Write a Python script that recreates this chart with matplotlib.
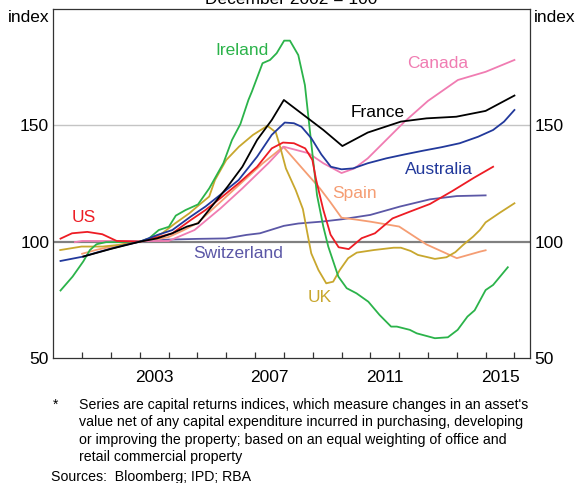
import matplotlib
matplotlib.use("Agg")
import matplotlib.pyplot as plt
from matplotlib.ticker import FixedLocator, NullFormatter

plt.rcParams['font.family'] = ['Liberation Sans', 'DejaVu Sans']

# values (index, December 2002 = 100)
ireland_t = [2000.25, 2000.67, 2001.04, 2001.27, 2001.5, 2001.83, 2002.2, 2003.0, 2003.32, 2003.66,
             2004.01, 2004.25, 2004.59, 2005.02, 2005.41, 2005.9, 2006.2, 2006.49, 2006.77, 2006.89,
             2007.26, 2007.52, 2007.75, 2008.01, 2008.21, 2008.5, 2008.73, 2008.9, 2009.15, 2009.37,
             2009.54, 2009.89, 2010.18, 2010.52, 2010.93, 2011.32, 2011.72, 2011.92, 2012.37, 2012.61,
             2013.24, 2013.69, 2014.03, 2014.37, 2014.62, 2015.0, 2015.26, 2015.77]
ireland_v = [79.0, 85.0, 91.5, 96.4, 98.9, 99.8, 99.8, 100.0, 101.4, 105.0,
             106.4, 111.2, 113.6, 116.0, 122.9, 133.7, 143.7, 150.5, 160.9, 164.5,
             176.7, 178.1, 181.0, 186.4, 186.4, 180.2, 167.3, 148.0, 120.0, 106.4,
             97.9, 85.0, 80.0, 77.8, 74.2, 68.5, 63.5, 63.5, 62.1, 60.6,
             58.5, 58.9, 62.1, 67.8, 70.5, 79.2, 81.4, 89.0]

canada_t = [2000.75, 2001.0, 2003.5, 2004.0, 2004.9, 2005.8, 2006.56, 2007.46, 2008.0, 2008.86,
            2009.37, 2010.0, 2010.45, 2010.91, 2011.55, 2012.19, 2013.0, 2014.04, 2015.0, 2016.0]
canada_v = [99.8, 100.3, 100.3, 100.3, 105.0, 114.3, 122.9, 133.7, 140.8, 138.0,
            133.7, 129.5, 131.5, 135.8, 143.7, 151.6, 160.5, 169.5, 173.0, 178.1]

france_t = [2001.04, 2002.0, 2003.0, 2003.6, 2004.13, 2004.64, 2005.03, 2005.54, 2006.05, 2006.56,
            2007.07, 2007.58, 2008.0, 2009.37, 2010.03, 2010.91, 2012.06, 2012.95, 2013.98, 2015.0, 2016.0]
france_v = [93.6, 96.9, 100.0, 101.4, 103.6, 106.5, 107.9, 115.8, 123.7, 132.2,
            143.7, 152.3, 160.9, 148.0, 141.1, 146.9, 151.6, 153.0, 153.7, 156.2, 162.8]

australia_t = [2000.25, 2000.75, 2001.04, 2001.5, 2002.0, 2002.5, 2003.0, 2003.62, 2004.13, 2004.77,
               2005.28, 2005.79, 2006.43, 2007.07, 2007.58, 2008.03, 2008.35, 2008.61, 2008.95, 2009.3,
               2009.63, 2010.0, 2010.4, 2010.91, 2011.55, 2012.19, 2012.83, 2013.47, 2014.1, 2014.74,
               2015.26, 2015.64, 2016.0]
australia_v = [91.7, 92.9, 93.6, 95.3, 97.0, 98.6, 100.0, 102.9, 105.0, 110.8,
               115.1, 120.1, 126.5, 136.5, 145.9, 151.2, 150.9, 149.4, 144.5, 137.5,
               132.2, 131.1, 131.5, 133.7, 135.8, 137.5, 139.1, 140.6, 142.3, 145.1,
               148.0, 151.6, 156.6]

us_t = [2000.25, 2000.65, 2001.18, 2001.7, 2002.2, 2003.0, 2003.62, 2004.13, 2004.77, 2005.28,
        2005.79, 2006.43, 2007.07, 2007.58, 2007.97, 2008.35, 2008.74, 2008.99, 2009.12, 2009.37,
        2009.62, 2009.9, 2010.25, 2010.7, 2011.16, 2011.77, 2012.35, 2013.07, 2013.85, 2014.6, 2015.26]
us_v = [101.3, 103.6, 104.2, 103.2, 100.3, 100.0, 101.9, 103.6, 109.3, 113.6,
        118.6, 125.1, 132.2, 140.1, 142.6, 142.3, 140.1, 135.1, 126.5, 113.6,
        103.0, 97.6, 96.8, 101.5, 103.6, 110.0, 112.8, 116.2, 121.8, 127.5, 132.2]

spain_t = [2001.0, 2001.5, 2002.0, 2002.5, 2003.0, 2003.5, 2004.0, 2004.5, 2005.0, 2005.75,
           2006.5, 2007.25, 2007.98, 2008.59, 2009.25, 2009.6, 2010.0, 2010.5, 2011.0, 2012.0,
           2012.95, 2014.0, 2014.8, 2015.0]
spain_v = [94.8, 96.5, 97.8, 99.0, 100.0, 100.8, 102.0, 104.8, 108.0, 116.5,
           125.0, 133.5, 140.8, 132.2, 122.9, 117.2, 110.3, 109.5, 108.6, 106.5,
           98.8, 92.9, 95.7, 96.3]

swiss_t = [2002.0, 2003.0, 2004.0, 2005.0, 2006.0, 2006.7, 2007.17, 2008.0, 2008.5, 2009.3,
           2010.0, 2011.0, 2012.03, 2013.07, 2014.0, 2015.0]
swiss_v = [100.3, 100.0, 100.9, 101.2, 101.4, 102.9, 103.6, 106.8, 107.8, 108.6,
           109.6, 111.5, 115.1, 118.2, 119.6, 119.9]

uk_t = [2000.24, 2000.98, 2001.71, 2002.26, 2003.0, 2003.34, 2003.78, 2004.23, 2004.72, 2005.06,
        2005.41, 2005.61, 2006.0, 2006.44, 2006.93, 2007.43, 2007.72, 2007.87, 2008.07, 2008.41,
        2008.66, 2008.81, 2008.95, 2009.2, 2009.47, 2009.71, 2009.94, 2010.23, 2010.53, 2011.12,
        2011.81, 2012.06, 2012.4, 2012.65, 2013.24, 2013.64, 2013.95, 2014.22, 2014.57, 2014.8,
        2015.0, 2015.5, 2016.0]
uk_v = [96.4, 97.9, 97.9, 98.6, 100.0, 101.0, 103.6, 107.9, 112.2, 115.8,
        119.4, 126.5, 135.1, 140.8, 145.9, 149.8, 147.0, 140.8, 131.5, 122.2,
        114.0, 104.0, 95.0, 87.8, 82.1, 82.8, 87.8, 92.9, 95.3, 96.4,
        97.4, 97.4, 96.0, 94.3, 92.6, 93.3, 95.5, 98.6, 102.2, 105.0,
        108.3, 112.5, 116.5]

series = [
    ('Switzerland', swiss_t, swiss_v, '#5b57a6', 2006.41, 94.7),
    ('Spain', spain_t, spain_v, '#f59d73', 2010.46, 120.9),
    ('Canada', canada_t, canada_v, '#f07cb2', 2013.33, 176.4),
    ('UK', uk_t, uk_v, '#c8a72e', 2009.25, 76.0),
    ('Ireland', ireland_t, ireland_v, '#2bb34a', 2006.53, 182.0),
    ('US', us_t, us_v, '#ed1c24', 2001.07, 110.6),
    ('Australia', australia_t, australia_v, '#22399b', 2013.38, 131.2),
    ('France', france_t, france_v, '#000000', 2011.26, 155.7),
]

year_labels = ['2003', '2007', '2011', '2015']

W, H = 576, 483
fig = plt.figure(figsize=(W / 100, H / 100), dpi=100)
ax = fig.add_axes([53.3 / W, 1 - 358 / H, 476.7 / W, 349 / H])

ax.axhline(150, color='#c4c4c4', lw=1.0, zorder=1)
ax.axhline(100, color='#808080', lw=1.6, zorder=1)

for name, t, v, c, lx, ly in series:
    ax.plot(t, v, color=c, lw=1.3, zorder=3)
    ax.text(lx, ly, name, color=c, fontsize=12.5, ha='center', va='center')

ax.set_xlim(2000, 2016.54)
ax.set_ylim(50, 200)

# year ticks at year boundaries, labels centred on the year
ax.xaxis.set_minor_locator(FixedLocator(range(2001, 2017)))
ax.xaxis.set_minor_formatter(NullFormatter())
ax.set_xticks([int(y) + 0.5 for y in year_labels])
ax.set_xticklabels(year_labels)
ax.tick_params(axis='x', which='major', length=0, pad=9, labelsize=12.5)
ax.tick_params(axis='x', which='minor', direction='in', length=4.3, width=0.9, color='#333333')

ax.set_yticks([50, 100, 150])
ax.tick_params(axis='y', which='both', length=0, pad=3, labelsize=12.5,
               left=True, right=True, labelleft=True, labelright=True)

for s in ax.spines.values():
    s.set_color('#333333')
    s.set_linewidth(0.9)

fig.text(49.5 / W, 1 - 17 / H, 'index', fontsize=12.5, ha='right', va='center')
fig.text(533.5 / W, 1 - 17 / H, 'index', fontsize=12.5, ha='left', va='center')
fig.text(291 / W, 1 - 4 / H, 'December 2002 = 100', fontsize=12.5, ha='center', va='baseline')

notes = [
    "Series are capital returns indices, which measure changes in an asset's",
    "value net of any capital expenditure incurred in purchasing, developing",
    "or improving the property; based on an equal weighting of office and",
    "retail commercial property",
]
fig.text(53 / W, 1 - 405 / H, '*', fontsize=10, ha='left', va='center')
for i, line in enumerate(notes):
    fig.text(79 / W, 1 - (405 + 17.3 * i) / H, line, fontsize=10.2, ha='left', va='center')
fig.text(51 / W, 1 - 477 / H, 'Sources:  Bloomberg; IPD; RBA', fontsize=10.2, ha='left', va='center')

fig.savefig('out.png', dpi=100)
